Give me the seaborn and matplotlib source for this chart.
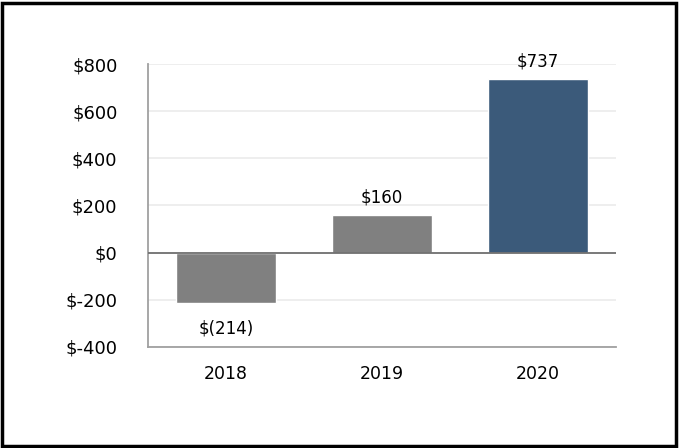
import matplotlib
matplotlib.use("Agg")
import matplotlib.pyplot as plt
import seaborn as sns
import pandas as pd
from matplotlib.patches import Rectangle

# datos
anios = ["2018", "2019", "2020"]
valores = [-214, 160, 737]
etiquetas = ["$(214)", "$160", "$737"]
colores = ["#808080", "#808080", "#3b5a7a"]
ticks_y = [-400, -200, 0, 200, 400, 600, 800]

df = pd.DataFrame({"anio": anios, "valor": valores})

sns.set_style("white")
plt.rcParams["font.family"] = ["DejaVu Sans"]
plt.rcParams["text.color"] = "black"
plt.rcParams["xtick.color"] = "black"
plt.rcParams["ytick.color"] = "black"

fig = plt.figure(figsize=(6.8, 4.48), dpi=100)
ax = fig.add_axes([148 / 680, 1 - 347 / 448, 468 / 680, 283 / 448])

sns.barplot(data=df, x="anio", y="valor", hue="anio", palette=colores,
            legend=False, width=0.64, saturation=1, ax=ax)

ax.set_xlim(-0.5, 2.5)
ax.set_ylim(-400, 800)
ax.set_yticks(ticks_y)
ax.set_yticklabels([f"${t}" for t in ticks_y], fontsize=13)
ax.tick_params(axis="y", length=0, pad=22)
ax.tick_params(axis="x", length=0, pad=13, labelsize=12.5)
ax.set_xlabel("")
ax.set_ylabel("")

ax.yaxis.grid(True, color="#ebebeb", linewidth=1.2)
ax.set_axisbelow(True)
ax.axhline(0, color="#707070", linewidth=1.3, zorder=3)

for lado in ["top", "right"]:
    ax.spines[lado].set_visible(False)
for lado in ["left", "bottom"]:
    ax.spines[lado].set_color("#a0a0a0")
    ax.spines[lado].set_linewidth(1.3)

# etiquetas de valor
for i, (v, txt) in enumerate(zip(valores, etiquetas)):
    if v < 0:
        ax.annotate(txt, (i, v), xytext=(0, -12), textcoords="offset points",
                    ha="center", va="top", fontsize=12)
    else:
        ax.annotate(txt, (i, v), xytext=(0, 6), textcoords="offset points",
                    ha="center", va="bottom", fontsize=12)

# marco negro alrededor de la figura
fig.patches.append(Rectangle((0.003, 0.004), 0.991, 0.99, transform=fig.transFigure,
                             fill=False, edgecolor="black", linewidth=2.5))

fig.savefig("out.png", dpi=100)
